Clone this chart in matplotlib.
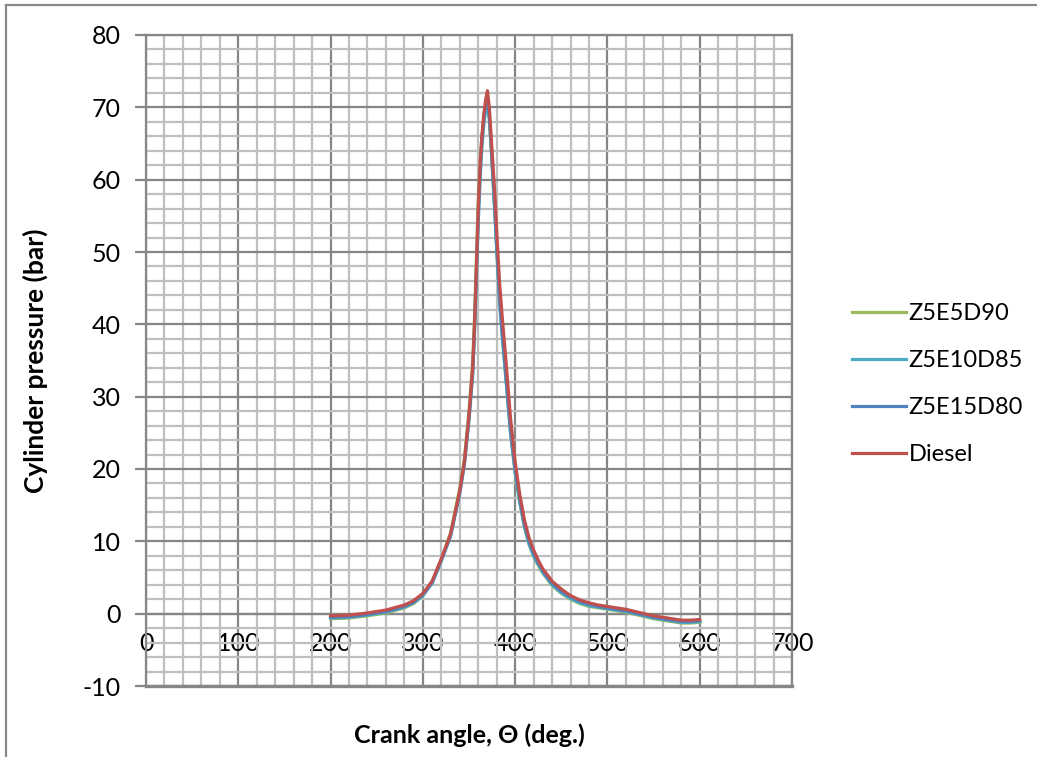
import matplotlib
matplotlib.use("Agg")
import matplotlib.pyplot as plt
from matplotlib.lines import Line2D
from matplotlib.ticker import MultipleLocator

plt.rcParams['font.family'] = ['Lato', 'DejaVu Sans']
plt.rcParams['axes.unicode_minus'] = False

crank_angle = [200, 220, 240, 260, 280, 290, 300, 310, 320, 330,
               340, 345, 350, 354, 356, 358, 360, 362, 364, 366,
               368, 370, 372, 374, 376, 378, 380, 383, 386, 390,
               395, 400, 405, 410, 415, 420, 425, 430, 440, 450,
               460, 470, 480, 490, 500, 510, 520, 530, 540, 550,
               560, 570, 580, 590, 600]

z5e5d90 = [-0.7, -0.6, -0.3, 0.1, 0.8, 1.4, 2.5, 4.3, 7.5, 11.2,
           17.3, 21.5, 28, 35, 41, 49, 57, 62.5, 66, 68.5,
           70, 70.5, 68.5, 64.5, 60, 55.5, 50.5, 43.5, 38.5, 32.5,
           25, 19.5, 15.3, 12, 9.6, 7.9, 6.7, 5.6, 3.9, 2.8,
           2.0, 1.4, 1.0, 0.8, 0.6, 0.4, 0.2, -0.1, -0.4, -0.7,
           -0.9, -1.1, -1.3, -1.3, -1.2]

z5e10d85 = [-0.6, -0.5, -0.2, 0.2, 0.9, 1.5, 2.5, 4.2, 7.3, 10.7,
            16.6, 20.6, 26.8, 33, 39, 46.5, 54, 60, 64.5, 67.5,
            69.5, 70.2, 68.5, 64.5, 60, 55.5, 50.5, 43.5, 38.5, 32.5,
            25, 19.6, 15.5, 12.1, 9.7, 8.0, 6.8, 5.7, 4.0, 2.9,
            2.1, 1.5, 1.1, 0.9, 0.7, 0.5, 0.3, 0.0, -0.3, -0.6,
            -0.8, -1.0, -1.2, -1.2, -1.1]

z5e15d80 = [-0.5, -0.4, -0.1, 0.3, 1.0, 1.6, 2.6, 4.3, 7.4, 10.8,
            16.8, 20.8, 27, 33.5, 39.5, 47, 55, 61, 65.5, 68.5,
            70.3, 71, 69, 65, 60.5, 56, 51, 44, 39, 33,
            25.5, 20, 15.8, 12.4, 10, 8.3, 7, 5.9, 4.2, 3.1,
            2.3, 1.7, 1.3, 1.0, 0.8, 0.6, 0.4, 0.1, -0.2, -0.5,
            -0.7, -0.9, -1.1, -1.1, -1.0]

diesel = [-0.3, -0.2, 0.1, 0.5, 1.2, 1.8, 2.8, 4.5, 7.6, 11,
          17, 21, 27.5, 34, 40, 48, 56, 62, 66, 69,
          71, 72.3, 70, 66, 62, 58, 53, 46, 41, 35,
          27, 21, 16.5, 13, 10.5, 8.8, 7.4, 6.2, 4.5, 3.4,
          2.5, 1.9, 1.5, 1.2, 1.0, 0.8, 0.6, 0.3, 0.0, -0.3,
          -0.5, -0.7, -0.9, -0.9, -0.8]

series_names = ['Z5E5D90', 'Z5E10D85', 'Z5E15D80', 'Diesel']
series_values = [z5e5d90, z5e10d85, z5e15d80, diesel]
series_colors = ['#9BBB59', '#4BACC6', '#4F81BD', '#C0504D']

x_ticks = [0, 100, 200, 300, 400, 500, 600, 700]
y_ticks = [-10, 0, 10, 20, 30, 40, 50, 60, 70, 80]

fig = plt.figure(figsize=(10.37, 7.57), dpi=100)
ax = fig.add_axes([146/1037, 1-686/757, (792-146)/1037, (686-35)/757])

major_c = '#868686'
minor_c = '#BFBFBF'

for name, vals, col in zip(series_names, series_values, series_colors):
    ax.plot(crank_angle, vals, color=col, lw=2.3, label=name, zorder=3)

ax.set_xlim(0, 700)
ax.set_ylim(-10, 80)
ax.set_xticks(x_ticks)
ax.set_yticks(y_ticks)
ax.xaxis.set_minor_locator(MultipleLocator(20))
ax.yaxis.set_minor_locator(MultipleLocator(2))
ax.grid(which='minor', color=minor_c, lw=1.6, zorder=0)
ax.grid(which='major', color=major_c, lw=1.6, zorder=1)
ax.set_axisbelow(True)

for s in ['top', 'right', 'left']:
    ax.spines[s].set_color(major_c)
    ax.spines[s].set_linewidth(1.6)
ax.spines['bottom'].set_position(('data', 0))
ax.spines['bottom'].set_color(major_c)
ax.spines['bottom'].set_linewidth(1.6)
ax.axhline(-10, color=major_c, lw=2.4, clip_on=False, zorder=1)

ax.tick_params(axis='y', which='major', length=8, width=1.6, color=major_c,
               labelsize=18, pad=10, labelcolor='black')
ax.tick_params(axis='x', which='major', length=0, labelsize=18, pad=13,
               labelcolor='black')
ax.tick_params(which='minor', length=0)

ax.set_ylabel('Cylinder pressure (bar)', fontsize=19, fontweight='bold')
ax.yaxis.set_label_coords(-98/646, 0.5)
ax.text(0.5, -0.075, 'Crank angle, Θ (deg.)', transform=ax.transAxes,
        ha='center', va='center', fontsize=18, fontweight='bold')

leg = ax.legend(loc='center left', bbox_to_anchor=(852/1037, 1-384/757),
                bbox_transform=fig.transFigure, frameon=False, fontsize=17,
                handlelength=2.3, handletextpad=0.1, labelspacing=1.1,
                borderaxespad=0, borderpad=0)

# outer chart border (top and left)
fig.add_artist(Line2D([6/1037, 1.0], [1-5/757, 1-5/757], transform=fig.transFigure,
                      color='#888888', lw=1.6))
fig.add_artist(Line2D([6/1037, 6/1037], [0, 1-5/757], transform=fig.transFigure,
                      color='#888888', lw=1.6))

fig.savefig('out.png', dpi=100)
